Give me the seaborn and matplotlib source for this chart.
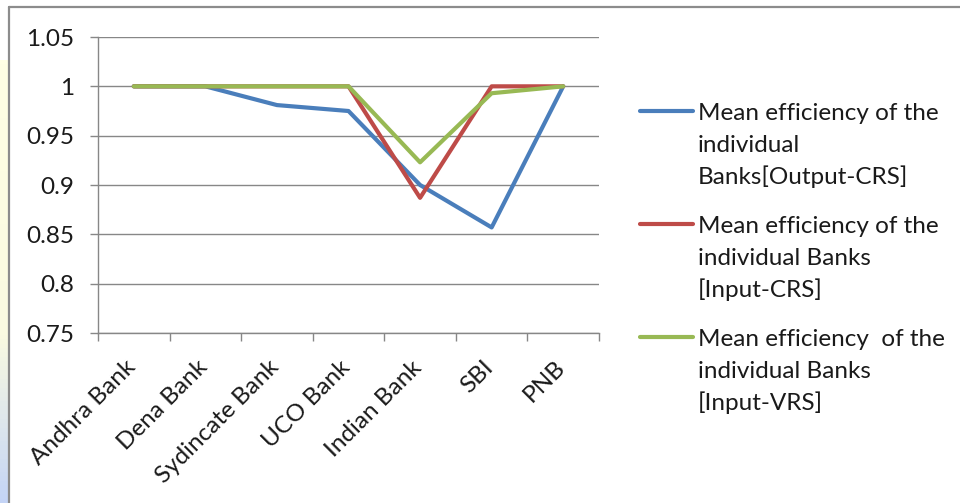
import numpy as np
import pandas as pd
import matplotlib
matplotlib.use("Agg")
import matplotlib.pyplot as plt
from matplotlib.lines import Line2D
from matplotlib.transforms import ScaledTranslation
from matplotlib.ticker import MultipleLocator, FixedLocator, FuncFormatter
import seaborn as sns

banks = ["Andhra Bank", "Dena Bank", "Sydincate Bank", "UCO Bank", "Indian Bank", "SBI", "PNB"]
output_crs = [1.0, 1.0, 0.981, 0.975, 0.900, 0.857, 1.0]
input_crs = [1.0, 1.0, 1.0, 1.0, 0.887, 1.0, 1.0]
input_vrs = [1.0, 1.0, 1.0, 1.0, 0.923, 0.993, 1.0]
series_labels = [
    ["Mean efficiency of the", "individual", "Banks[Output-CRS]"],
    ["Mean efficiency of the", "individual Banks", "[Input-CRS]"],
    ["Mean efficiency  of the", "individual Banks", "[Input-VRS]"],
]
series_names = ["Output-CRS", "Input-CRS", "Input-VRS"]
colors = ["#4A7EBB", "#BE4B48", "#98B954"]

sns.set_theme(style="white")
plt.rcParams["font.family"] = ["Lato", "DejaVu Sans"]
FS = 17.5

rows = []
for name, vals in zip(series_names, [output_crs, input_crs, input_vrs]):
    for b, v in zip(banks, vals):
        rows.append({"Bank": b, "Efficiency": v, "Series": name})
df = pd.DataFrame(rows)

W, H = 960, 503
fig = plt.figure(figsize=(W / 100, H / 100), dpi=100)
fig.patch.set_facecolor("white")

# slide background strip on the left
bg = fig.add_axes([0, 0, 8 / W, (H - 60) / H])
grad = np.zeros((100, 1, 3))
top = np.array([255, 255, 228]) / 255
mid = np.array([250, 250, 225]) / 255
bot = np.array([196, 212, 246]) / 255
for i in range(100):
    t = i / 99
    if t < 0.62:
        c = top + (mid - top) * (t / 0.62)
    else:
        c = mid + (bot - mid) * ((t - 0.62) / 0.38)
    grad[i, 0] = c
bg.imshow(grad, aspect="auto", extent=[0, 1, 0, 1])
bg.set_axis_off()

# chart frame
fx = 9 / W
fy = 1 - 7 / H
fig.add_artist(Line2D([fx, fx], [0, fy], transform=fig.transFigure, color="#8C8C8C", lw=1.6))
fig.add_artist(Line2D([fx, 1], [fy, fy], transform=fig.transFigure, color="#8C8C8C", lw=1.6))

ax = fig.add_axes([98 / W, 1 - 333 / H, (599 - 98) / W, (333 - 37) / H])
ax.set_facecolor("none")
sns.lineplot(data=df, x="Bank", y="Efficiency", hue="Series", palette=colors,
             sort=False, legend=False, linewidth=3.0, ax=ax)

ax.set_xlim(-0.5, len(banks) - 0.5)
ax.set_ylim(0.75, 1.05)
ax.yaxis.set_major_locator(MultipleLocator(0.05))
ax.yaxis.set_major_formatter(FuncFormatter(lambda v, p: f"{round(v, 2):g}"))
ax.grid(axis="y", color="#878787", lw=1.0)
ax.grid(axis="x", visible=False)
ax.set_axisbelow(True)
for s in ["top", "right"]:
    ax.spines[s].set_visible(False)
for s in ["left", "bottom"]:
    ax.spines[s].set_color("#878787")
    ax.spines[s].set_linewidth(1.0)

ax.set_xticks(range(len(banks)))
ax.set_xticklabels(banks, rotation=45, ha="right", va="top", rotation_mode="anchor", fontsize=FS, color="#1a1a1a")
ax.xaxis.set_minor_locator(FixedLocator(np.arange(-0.5, len(banks), 1.0)))
ax.tick_params(axis="x", which="major", length=0, pad=17)
ax.tick_params(axis="x", which="minor", length=6, width=1.0, color="#878787", direction="out", bottom=True)
ax.tick_params(axis="y", length=6, width=1.0, color="#878787", direction="out", left=True, pad=11, labelsize=FS, labelcolor="#1a1a1a")
ax.set_xlabel("")
ax.set_ylabel("")

shift = ScaledTranslation(-9 / 100, 0, fig.dpi_scale_trans)
for lab in ax.get_xticklabels():
    lab.set_transform(lab.get_transform() + shift)

# legend
handle_y = [111, 224, 337]
baselines = [[120, 152, 184], [233, 265, 297], [346, 378, 410]]
for c, hy, bls, lines in zip(colors, handle_y, baselines, series_labels):
    fig.add_artist(Line2D([640 / W, 693 / W], [1 - hy / H, 1 - hy / H], transform=fig.transFigure,
                          color=c, lw=3.0, solid_capstyle="round"))
    for bl, txt in zip(bls, lines):
        fig.text(698 / W, 1 - bl / H, txt, fontsize=FS, va="baseline", ha="left", color="#1a1a1a")

fig.savefig("out.png", dpi=100)
